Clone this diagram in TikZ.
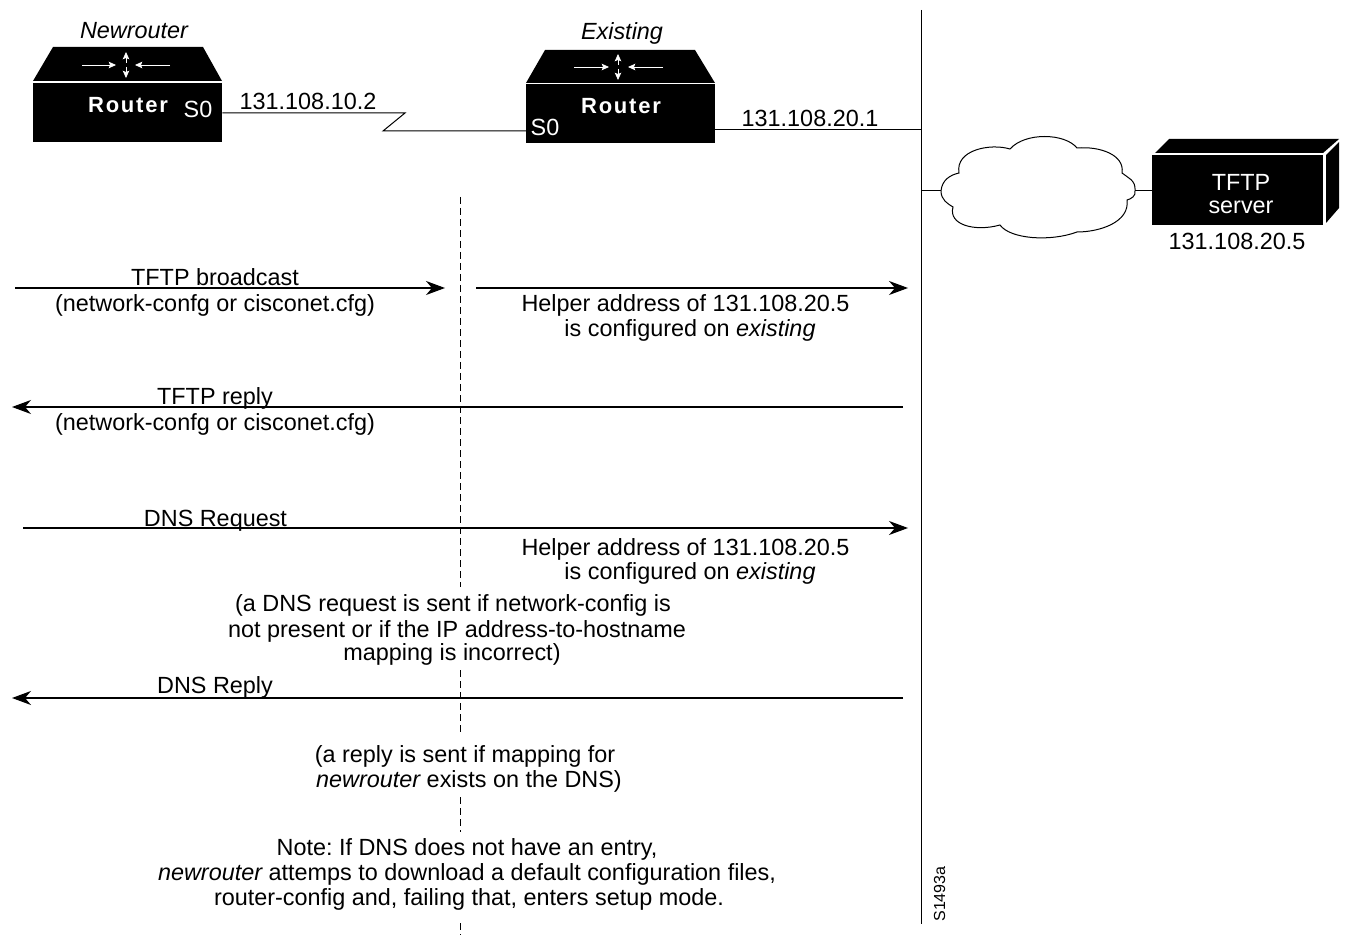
\documentclass[tikz,border=0pt]{standalone}
\usepackage{fontspec}
\setmainfont{Liberation Sans}
\newfontfamily\routerfont[LetterSpace=8]{Liberation Sans Bold}
\usetikzlibrary{arrows.meta,positioning,calc}
\tikzset{
txt/.style={anchor=base,inner sep=0pt,font=\fontsize{11.7}{13}\selectfont},
whitetxt/.style={txt,text=white},
routertxt/.style={anchor=base,inner sep=0pt,text=white,font=\fontsize{11}{13}\routerfont},
routerbody/.style={fill=black,minimum width=94.5pt,minimum height=29.5pt,inner sep=0pt},
msg/.style={line width=.6pt,-{Stealth[length=9.5pt,width=7pt,inset=3pt]}},
inner/.style={white,line width=.4pt,-{Stealth[length=3.6pt,width=3.2pt,inset=.6pt]}},
wire/.style={line width=.5pt}
}
\begin{document}
\begin{tikzpicture}[x=.5pt,y=-.5pt]
\useasboundingbox (0,0) rectangle (1348,935);
% routers
\fill (33,81)--(53,47)--(203,47)--(222,81)--cycle;
\node[routerbody] (R1) at (127.5,112.5) {};
\draw[inner] (82,65)--(116,65);
\draw[inner] (170,65)--(135,65);
\draw[inner] (126,63)--(126,52);
\draw[inner] (126,67)--(126,78);
\fill (526,83)--(545,50)--(695,50)--(715,83)--cycle;
\node[routerbody] (R2) at (620.5,114) {};
\draw[inner] (574,67)--(609,67);
\draw[inner] (663,67)--(628,67);
\draw[inner] (618,65)--(618,54);
\draw[inner] (618,69)--(618,80);
% server
\fill (1155,153)--(1169,139)--(1339,139)--(1323,153)--cycle;
\fill (1326,155)--(1339,142)--(1339,208)--(1326,223)--cycle;
\node[fill=black,minimum width=85.5pt,minimum height=35pt,inner sep=0pt] (srv) at (1237.5,190) {};
% cloud
\coordinate (cA) at (941,191);
\coordinate (cB) at (959,173);
\coordinate (cC) at (1010,149);
\coordinate (cD) at (1077,148);
\coordinate (cE) at (1122,173);
\coordinate (cF) at (1135,191);
\coordinate (cG) at (1127,200);
\coordinate (cH) at (1077,232);
\coordinate (cI) at (1000,225);
\coordinate (cJ) at (953,207);
\draw[wire] (cA) .. controls (942,180) and (950,175) .. (cB)
.. controls (955,150) and (990,143) .. (cC)
.. controls (1025,132) and (1065,133) .. (cD)
.. controls (1100,146) and (1125,155) .. (cE)
.. controls (1128,178) and (1136,180) .. (cF)
.. controls (1136,196) and (1131,199) .. (cG)
.. controls (1130,222) and (1100,232) .. (cH)
.. controls (1050,242) and (1010,239) .. (cI)
.. controls (975,232) and (948,225) .. (cJ)
.. controls (948,204) and (941,200) .. (cA)--cycle;
% bus and links
\coordinate (busT) at (921,10);
\coordinate (busB) at (921,924);
\coordinate (busR) at (921,130);
\coordinate (busC) at (921,191);
\coordinate (R2s) at (526,131);
\coordinate (R2e) at (715,130);
\coordinate (z1) at (405,113);
\coordinate (z2) at (383,131);
\coordinate (srvW) at (1152,191);
\draw[wire] (busT)--(busB);
\draw[wire] (R1.east|-z1)--(z1)--(z2)--(R2s);
\draw[wire] (R2e)--(busR);
\draw[wire] (busC)--(cA);
\draw[wire] (cF)--(srvW);
% dashed line
\coordinate (d1) at (460,197);
\coordinate (d2) at (460,587);
\coordinate (d3) at (460,670);
\coordinate (d4) at (460,733);
\coordinate (d5) at (460,797);
\coordinate (d6) at (460,832);
\coordinate (d7) at (460,923);
\coordinate (d8) at (460,935);
\foreach \a/\b in {d1/d2,d3/d4,d5/d6,d7/d8}
\draw[line width=.5pt,dash pattern=on 3.5pt off 2pt] (\a)--(\b);
% messages
\coordinate (m1a) at (15,288);
\coordinate (m1b) at (445,288);
\coordinate (m2a) at (476,288);
\coordinate (m2b) at (908,288);
\coordinate (m3a) at (903,407);
\coordinate (m3b) at (12,407);
\coordinate (m4a) at (23,528);
\coordinate (m4b) at (908,528);
\coordinate (m5a) at (903,698);
\coordinate (m5b) at (12,698);
\draw[msg] (m1a)--(m1b);
\draw[msg] (m2a)--(m2b);
\draw[msg] (m3a)--(m3b);
\draw[msg] (m4a)--(m4b);
\draw[msg] (m5a)--(m5b);
% labels
\node[txt] (newr) at (134,39) {\itshape Newrouter};
\node[txt] (exis) at (622,40) {\itshape Existing};
\node[routertxt] (rt1) at (128,113) {Router};
\node[routertxt] (rt2) at (621,114) {Router};
\node[whitetxt] (s1) at (198,118) {S0};
\node[whitetxt] (s2) at (545,136) {S0};
\node[txt] (ip1) at (308,110) {131.108.10.2};
\node[txt] (ip2) at (810,127) {131.108.20.1};
\node[whitetxt] (tf) at (1241,191) {TFTP};
\node[whitetxt] (sv) at (1241,214) {server};
\node[txt] (ip3) at (1237,250) {131.108.20.5};
\node[txt] (t1) at (215,286) {TFTP broadcast};
\node[txt] (t2) at (215,312) {(network-confg or cisconet.cfg)};
\node[txt] (h1) at (685.5,312) {Helper address of 131.108.20.5};
\node[txt] (h2) at (690,336) {is configured on \itshape existing};
\node[txt] (t3) at (215,404) {TFTP reply};
\node[txt] (t4) at (215,430) {(network-confg or cisconet.cfg)};
\node[txt] (d1t) at (215.5,526) {DNS Request};
\node[txt] (h3) at (685.5,555) {Helper address of 131.108.20.5};
\node[txt] (h4) at (690,579) {is configured on \itshape existing};
\node[txt] (q1) at (453,611) {(a DNS request is sent if network-config is};
\node[txt] (q2) at (457,637) {not present or if the IP address-to-hostname};
\node[txt] (q3) at (452,660) {mapping is incorrect)};
\node[txt] (d2t) at (215,693) {DNS Reply};
\node[txt] (r1) at (465,762) {(a reply is sent if mapping for};
\node[txt] (r2) at (469,787) {\itshape newrouter \upshape exists on the DNS)};
\node[txt] (n1) at (467,855) {Note:\ If DNS does not have an entry,};
\node[txt] (n2) at (467,880) {\itshape newrouter \upshape attemps to download a default configuration files,};
\node[txt] (n3) at (469,905) {router-config and, failing that, enters setup mode.};
\node[anchor=base west,inner sep=0pt,rotate=90,font=\fontsize{8}{10}\selectfont] (sid) at (945,922) {S1493a};
\end{tikzpicture}
\end{document}
